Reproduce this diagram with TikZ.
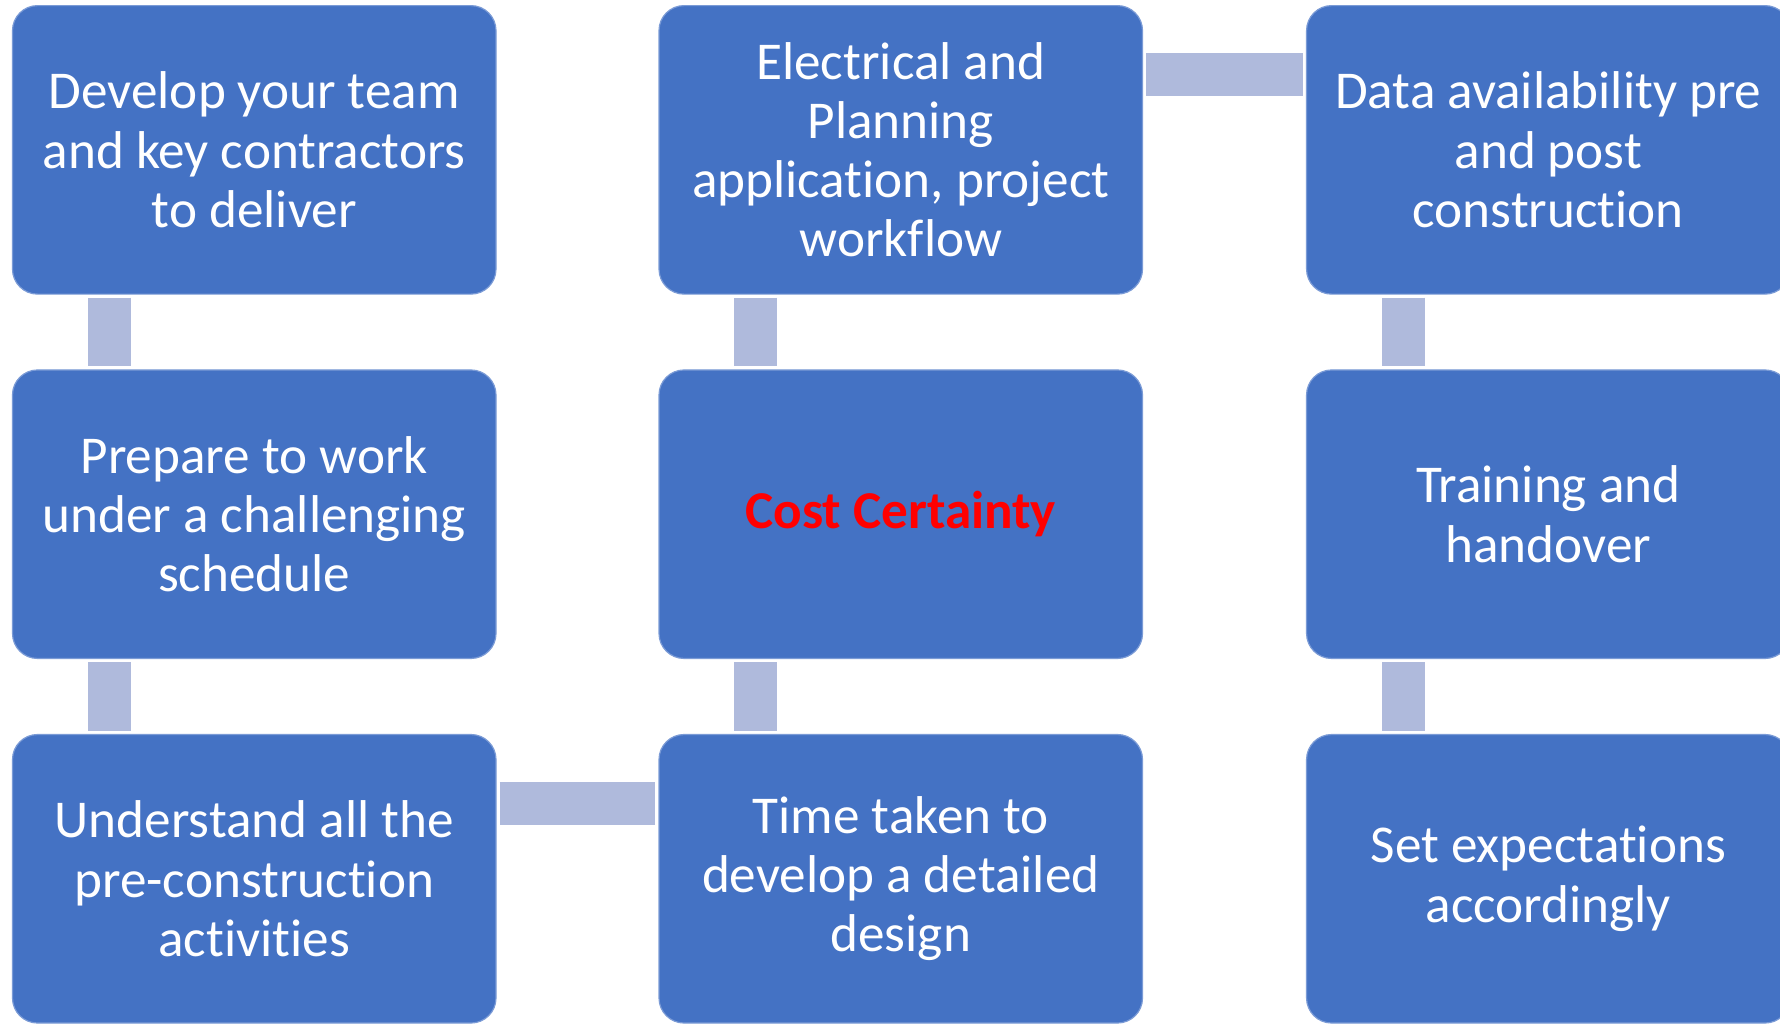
\documentclass[tikz,border=0pt]{standalone}
\usepackage{fontspec}
\setmainfont{Carlito}[Ligatures={NoCommon,NoContextual},Contextuals={NoAlternate}]
\definecolor{boxblue}{HTML}{4472C4}
\definecolor{connc}{HTML}{AFBADC}
\definecolor{edgec}{HTML}{7B9BD6}
\definecolor{hotred}{HTML}{FF0000}
\begin{document}
\begin{tikzpicture}[x=0.5pt,y=-0.5pt,
  box/.style={rounded corners=12.5pt, fill=boxblue, draw=edgec, line width=0.6pt,
    minimum width=241.75pt, minimum height=144.25pt, inner sep=0pt, text=white,
    align=center, font=\fontsize{26.6}{29.6}\selectfont},
  conn/.style={draw=connc, line width=21.5pt}]
\useasboundingbox (0,0) rectangle (1780,1025);
% column 1
\node[box] (b11) at (254.25,149.85) {Develop your team\\and key contractors\\to deliver};
\node[box] (b21) at (254.25,514.2) {Prepare to work\\under a challenging\\schedule};
\node[box] (b31) at (254.25,878.75) {Understand all the\\pre-construct\kern0pt ion\\act\kern0pt ivit\kern0pt ies};
% column 2
\node[box] (b12) at (900.75,149.85) {Electrical and\\Planning\\application, project\\workflow};
\node[box] (b22) at (900.75,514.2) {\textcolor{hotred}{\bfseries Cost Certainty}};
\node[box] (b32) at (900.75,878.75) {Time taken to\\develop a detailed\\design};
% column 3
\node[box] (b13) at (1548.3,149.85) {Data availability pre\\and post\\construct\kern0pt ion};
\node[box] (b23) at (1548.3,514.2) {Training and\\handover};
\node[box] (b33) at (1548.3,878.75) {Set expectat\kern0pt ions\\accordingly};
% vertical connectors
\draw[conn] ([xshift=-72.5pt,yshift=-1.5pt]b11.south) -- ([xshift=-72.5pt,yshift=1.5pt]b21.north);
\draw[conn] ([xshift=-72.5pt,yshift=-1.5pt]b21.south) -- ([xshift=-72.5pt,yshift=1.5pt]b31.north);
\draw[conn] ([xshift=-72.5pt,yshift=-1.5pt]b12.south) -- ([xshift=-72.5pt,yshift=1.5pt]b22.north);
\draw[conn] ([xshift=-72.5pt,yshift=-1.5pt]b22.south) -- ([xshift=-72.5pt,yshift=1.5pt]b32.north);
\draw[conn] ([xshift=-72.5pt,yshift=-1.5pt]b13.south) -- ([xshift=-72.5pt,yshift=1.5pt]b23.north);
\draw[conn] ([xshift=-72.5pt,yshift=-1.5pt]b23.south) -- ([xshift=-72.5pt,yshift=1.5pt]b33.north);
% horizontal connectors
\draw[conn] ([xshift=1.5pt,yshift=-34.65pt]b12.north east) -- ([xshift=-1.5pt,yshift=-34.65pt]b13.north west);
\draw[conn] ([xshift=1.5pt,yshift=-35pt]b31.north east) -- ([xshift=-1.5pt,yshift=-35pt]b32.north west);
\end{tikzpicture}
\end{document}
